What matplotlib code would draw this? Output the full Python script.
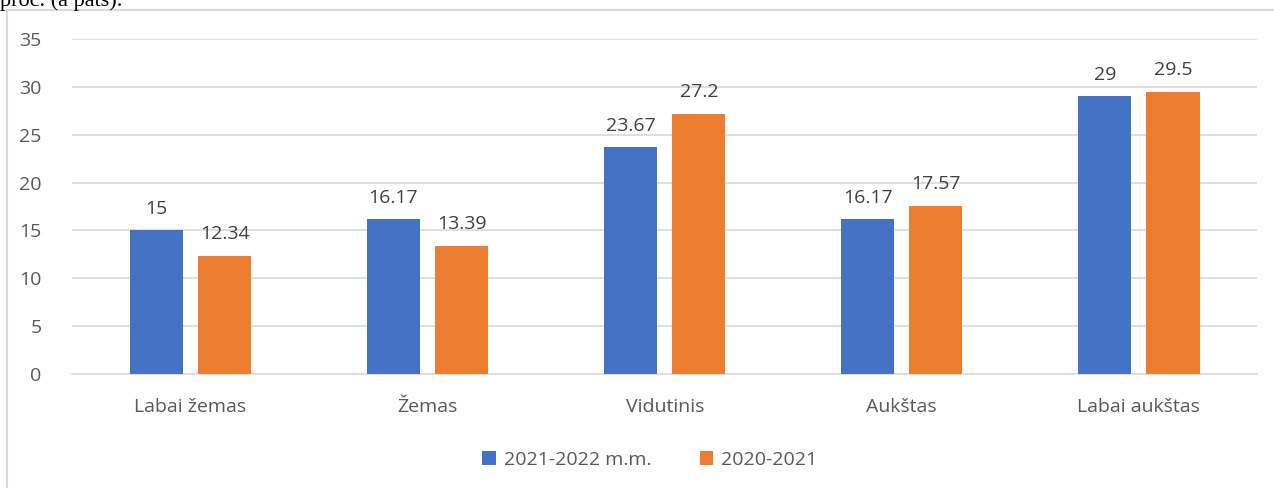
import numpy as np
import matplotlib.pyplot as plt
from matplotlib.patches import Rectangle

categories = ['Labai žemas', 'Žemas', 'Vidutinis', 'Aukštas', 'Labai aukštas']
series_names = ['2021-2022 m.m.', '2020-2021']
vals_2122 = [15, 16.17, 23.67, 16.17, 29]
vals_2021 = [12.34, 13.39, 27.2, 17.57, 29.5]
labels_2122 = ['15', '16.17', '23.67', '16.17', '29']
labels_2021 = ['12.34', '13.39', '27.2', '17.57', '29.5']

blue = '#4472c4'
orange = '#ed7d31'
txt = '#595959'
plt.rcParams['font.family'] = ['Open Sans', 'DejaVu Sans']

fig = plt.figure(figsize=(12.74, 4.88), dpi=100)
ax = fig.add_axes([0.0565, 0.2336, 0.9305, 0.6864])

# chart frame (clipped by the page)
fig.patches.append(Rectangle((7 / 1274, -0.1), 1.1, 1 - 10 / 488 + 0.1,
                             transform=fig.transFigure, fill=False,
                             edgecolor='#d9d9d9', linewidth=1.5))
fig.text(0.0, 0.998, 'proc. (a pats).', family='Liberation Serif',
         fontsize=16, va='center', ha='left', color='black')

x = np.arange(len(categories))
w = 0.224
off = 0.144
b1 = ax.bar(x - off, vals_2122, w, color=blue, label=series_names[0], zorder=3)
b2 = ax.bar(x + off, vals_2021, w, color=orange, label=series_names[1], zorder=3)

for rect, lab in zip(b1, labels_2122):
    ax.text(rect.get_x() + rect.get_width() / 2, rect.get_height() + 1.3, lab,
            ha='center', va='bottom', fontsize=14, color='#404040')
for rect, lab in zip(b2, labels_2021):
    ax.text(rect.get_x() + rect.get_width() / 2, rect.get_height() + 1.3, lab,
            ha='center', va='bottom', fontsize=14, color='#404040')

ax.set_xlim(-0.5, len(categories) - 0.5)
ax.set_ylim(0, 35)
ax.set_yticks(range(0, 36, 5))
ax.set_xticks(x)
ax.set_xticklabels(categories)
ax.tick_params(axis='both', length=0, labelsize=14, colors=txt)
ax.tick_params(axis='y', pad=22)
ax.tick_params(axis='x', pad=17)
ax.grid(axis='y', color='#d9d9d9', linewidth=1.2, zorder=0)
for s in ['top', 'right', 'left']:
    ax.spines[s].set_visible(False)
ax.spines['bottom'].set_color('#d9d9d9')
ax.spines['bottom'].set_linewidth(1.2)

leg = fig.legend(loc='center', bbox_to_anchor=(0.51, 0.058), ncol=2, frameon=False,
                 fontsize=14, handlelength=0.7, handleheight=0.7, columnspacing=2.5,
                 handletextpad=0.4)
for t in leg.get_texts():
    t.set_color(txt)

fig.savefig('out.png', dpi=100)
